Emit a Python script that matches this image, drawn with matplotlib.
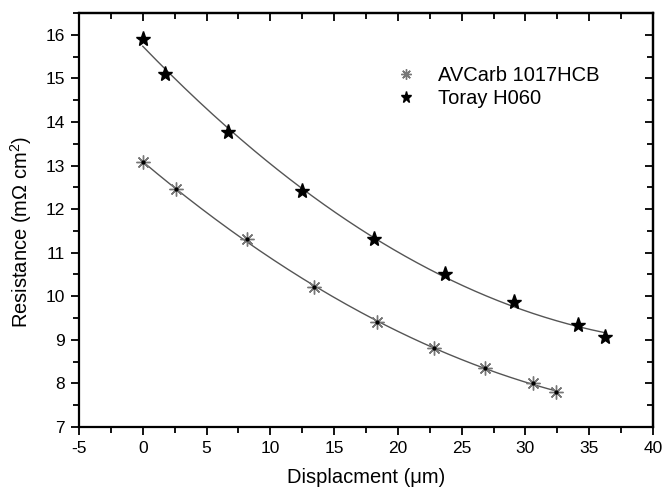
import numpy as np
import matplotlib
matplotlib.use("Agg")
import matplotlib.pyplot as plt
from matplotlib.ticker import MultipleLocator

plt.rcParams['font.family'] = ['Liberation Sans', 'DejaVu Sans']
plt.rcParams['mathtext.fontset'] = 'custom'
plt.rcParams['mathtext.rm'] = 'Liberation Sans'

av_x = [0.0, 2.58, 8.17, 13.4, 18.4, 22.8, 26.8, 30.6, 32.4]
av_y = [13.07, 12.47, 11.31, 10.22, 9.40, 8.81, 8.36, 8.01, 7.80]
tor_x = [0.0, 1.78, 6.68, 12.5, 18.14, 23.66, 29.13, 34.1, 36.25]
tor_y = [15.90, 15.10, 13.78, 12.42, 11.32, 10.51, 9.86, 9.33, 9.06]

xticks = [-5, 0, 5, 10, 15, 20, 25, 30, 35, 40]
yticks = [7, 8, 9, 10, 11, 12, 13, 14, 15, 16]

fig = plt.figure(figsize=(6.64, 4.93), dpi=100)
ax = fig.add_axes([79/664, (493-427)/493, (653-79)/664, (427-13)/493])

# fitted curves (quadratic fits computed from the data)
for xs, ys in [(av_x, av_y), (tor_x, tor_y)]:
    c = np.polyfit(xs, ys, 2)
    xx = np.linspace(min(xs), max(xs), 200)
    ax.plot(xx, np.polyval(c, xx), color='#555555', lw=1.0, zorder=2)

ax.plot(av_x, av_y, linestyle='none', marker=(8, 2, 0), ms=10, mew=1.0,
        color='#777777', label='AVCarb 1017HCB', zorder=3)
ax.plot(av_x, av_y, linestyle='none', marker='o', ms=2, color='black', zorder=4)
ax.plot(tor_x, tor_y, linestyle='none', marker='*', ms=11, color='black',
        label='Toray H060', zorder=3)

ax.set_xlim(-5, 40)
ax.set_ylim(7, 16.5)
ax.set_xticks(xticks)
ax.set_yticks(yticks)
ax.set_xticklabels([str(t) for t in xticks])
ax.set_yticklabels([str(t) for t in yticks])
ax.xaxis.set_minor_locator(MultipleLocator(2.5))
ax.yaxis.set_minor_locator(MultipleLocator(0.5))
ax.tick_params(which='major', direction='out', length=6, width=1.3, labelsize=12.5, pad=4)
ax.tick_params(which='minor', direction='out', length=4, width=1.3)

for s in ax.spines.values():
    s.set_linewidth(1.6)

top = ax.secondary_xaxis('top')
top.set_xticks(xticks)
top.xaxis.set_minor_locator(MultipleLocator(2.5))
top.tick_params(which='major', direction='in', length=6, width=1.3, labeltop=False)
top.tick_params(which='minor', direction='in', length=4, width=1.3)
top.spines['top'].set_linewidth(1.6)
right = ax.secondary_yaxis('right')
right.set_yticks(yticks)
right.yaxis.set_minor_locator(MultipleLocator(0.5))
right.tick_params(which='major', direction='in', length=6, width=1.3, labelright=False)
right.tick_params(which='minor', direction='in', length=4, width=1.3)
right.spines['right'].set_linewidth(1.6)

ax.set_xlabel('Displacment (\u03bcm)', fontsize=14.5, labelpad=9)
ax.set_ylabel('Resistance (m\u03a9 cm$^2$)', fontsize=14.5)
ax.yaxis.set_label_coords(-0.078, 0.47)

leg = ax.legend(loc='upper left', bbox_to_anchor=(0.52, 0.915), frameon=False,
                fontsize=14.5, markerscale=0.75, handlelength=1.0, handletextpad=1.1,
                labelspacing=0.2)

fig.savefig('out.png', dpi=100)
